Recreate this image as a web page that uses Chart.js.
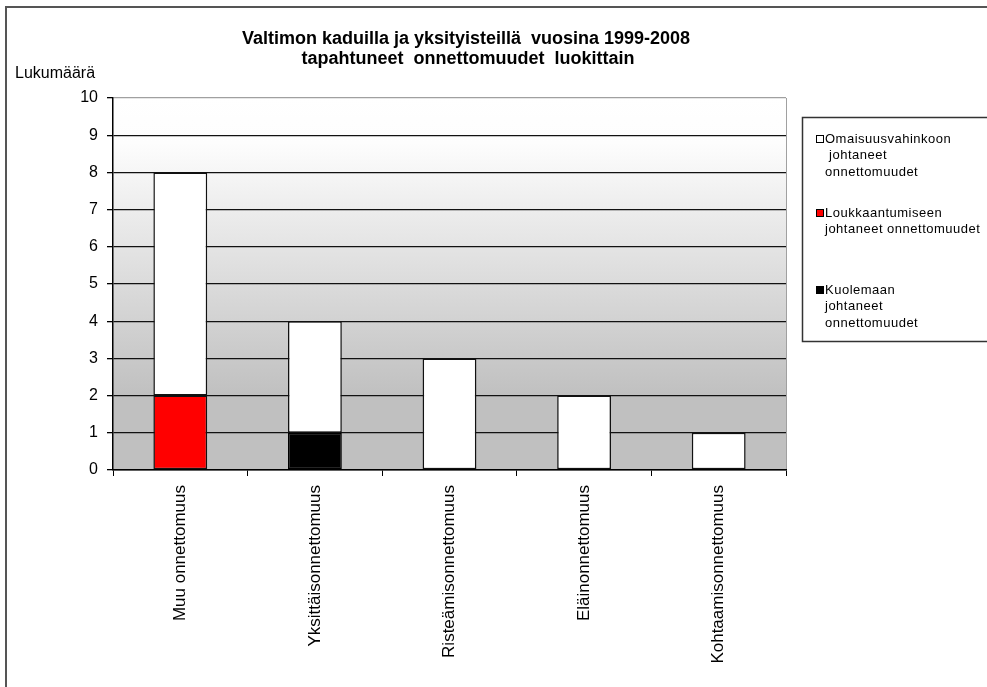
<!DOCTYPE html>
<html>
<head>
<meta charset="utf-8">
<script src="https://cdn.jsdelivr.net/npm/chart.js@4/dist/chart.umd.min.js"></script>
<style>
  html, body { margin: 0; padding: 0; background: #fff; }
  #wrap { width: 987px; height: 687px; position: relative; }
</style>
</head>
<body>
<div id="wrap"><canvas id="chart" width="987" height="687"></canvas></div>
<script>
const categories = ['Muu onnettomuus', 'Yksittäisonnettomuus', 'Risteämisonnettomuus', 'Eläinonnettomuus', 'Kohtaamisonnettomuus'];
const kuolemaan = [0, 1, 0, 0, 0];
const loukkaantumiseen = [2, 0, 0, 0, 0];
const omaisuusvahinkoon = [6, 3, 3, 2, 1];
const yTicks = [0, 1, 2, 3, 4, 5, 6, 7, 8, 9, 10];
const titleLines = ['Valtimon kaduilla ja yksityisteillä  vuosina 1999-2008', 'tapahtuneet  onnettomuudet  luokittain'];
const yTitle = 'Lukumäärä';
const legendLines = {
  omaisuus: ['Omaisuusvahinkoon', ' johtaneet', 'onnettomuudet'],
  loukkaantuminen: ['Loukkaantumiseen', 'johtaneet onnettomuudet'],
  kuolema: ['Kuolemaan', 'johtaneet', 'onnettomuudet']
};

const FONT = '"Liberation Sans", Arial, sans-serif';

// background gradient, frame lines, title, legend
const decorPlugin = {
  id: 'decor',
  beforeDraw(chart) {
    const c = chart.ctx;
    const a = chart.chartArea;
    c.save();
    const g = c.createLinearGradient(0, a.top, 0, a.bottom);
    g.addColorStop(0, '#ffffff');
    g.addColorStop(0.12, '#fdfdfd');
    g.addColorStop(0.8, '#c0c0c0');
    g.addColorStop(1, '#c0c0c0');
    c.fillStyle = g;
    c.fillRect(a.left, a.top, a.right - a.left, a.bottom - a.top);
    c.strokeStyle = '#a0a0a0';
    c.lineWidth = 1;
    c.beginPath();
    c.moveTo(a.right + 0.5, a.top);
    c.lineTo(a.right + 0.5, a.bottom);
    c.stroke();
    c.restore();
  },
  afterDraw(chart) {
    const c = chart.ctx;
    c.save();
    // outer frame (top + left only, the rest is cut off)
    c.strokeStyle = '#555';
    c.lineWidth = 2;
    c.beginPath();
    c.moveTo(6, 687);
    c.lineTo(6, 7);
    c.lineTo(987, 7);
    c.stroke();

    // title
    c.fillStyle = '#000';
    c.textAlign = 'center';
    c.textBaseline = 'middle';
    c.font = 'bold 18px ' + FONT;
    c.fillText(titleLines[0], 466, 39);
    c.fillText(titleLines[1], 468, 59);

    // y axis title
    c.textAlign = 'left';
    c.font = '16px ' + FONT;
    c.fillText(yTitle, 15, 74);

    // legend box
    c.strokeStyle = '#333';
    c.lineWidth = 1.5;
    c.strokeRect(802.5, 117.5, 220, 224);

    const ds = chart.data.datasets.slice().reverse();
    const starts = [139, 213, 290];
    c.font = '13px ' + FONT;
    c.letterSpacing = '0.5px';
    ds.forEach(function (d, i) {
      const y0 = starts[i];
      c.fillStyle = d.backgroundColor;
      c.fillRect(816.5, y0 - 3.5, 7, 7);
      c.strokeStyle = '#000';
      c.lineWidth = 1;
      c.strokeRect(816.5, y0 - 3.5, 7, 7);
      c.fillStyle = '#000';
      d.legendLines.forEach(function (line, j) {
        c.fillText(line, 825, y0 + j * 16.5);
      });
    });
    c.restore();
  }
};

new Chart(document.getElementById('chart'), {
  type: 'bar',
  data: {
    labels: categories,
    datasets: [
      {
        label: legendLines.kuolema.join(' '),
        legendLines: legendLines.kuolema,
        data: kuolemaan,
        backgroundColor: '#000000',
        borderColor: '#000000',
        borderWidth: 1.5,
        borderSkipped: false
      },
      {
        label: legendLines.loukkaantuminen.join(' '),
        legendLines: legendLines.loukkaantuminen,
        data: loukkaantumiseen,
        backgroundColor: '#ff0000',
        borderColor: '#111111',
        borderWidth: 1.5,
        borderSkipped: false
      },
      {
        label: legendLines.omaisuus.join(' '),
        legendLines: legendLines.omaisuus,
        data: omaisuusvahinkoon,
        backgroundColor: '#ffffff',
        borderColor: '#111111',
        borderWidth: 1.5,
        borderSkipped: false
      }
    ]
  },
  options: {
    responsive: false,
    animation: false,
    devicePixelRatio: 1,
    categoryPercentage: 1,
    barPercentage: 0.4,
    layout: { padding: { top: 98, right: 201, left: 0, bottom: 0 } },
    plugins: {
      legend: { display: false },
      title: { display: false },
      tooltip: { enabled: false }
    },
    scales: {
      x: {
        stacked: true,
        afterFit: function (s) { s.height = 217; },
        grid: { drawOnChartArea: false, drawTicks: true, tickLength: 6, color: '#000', offset: true },
        border: { color: '#000', width: 1.5 },
        ticks: {
          color: '#000',
          font: { family: FONT, size: 17 },
          minRotation: 90,
          maxRotation: 90,
          autoSkip: false,
          padding: 9
        }
      },
      y: {
        stacked: true,
        min: 0,
        max: 10,
        afterFit: function (s) { s.width = 113; },
        afterBuildTicks: function (s) { s.ticks = yTicks.map(function (v) { return { value: v }; }); },
        grid: {
          color: function (ctx) { return ctx.tick && ctx.tick.value === 10 ? '#a0a0a0' : '#111'; },
          lineWidth: 1.3,
          tickLength: 6,
          tickColor: '#000'
        },
        border: { color: '#000', width: 1.5 },
        ticks: {
          color: '#000',
          font: { family: FONT, size: 16 },
          padding: 9,
          stepSize: 1
        }
      }
    }
  },
  plugins: [decorPlugin]
});
</script>
</body>
</html>
